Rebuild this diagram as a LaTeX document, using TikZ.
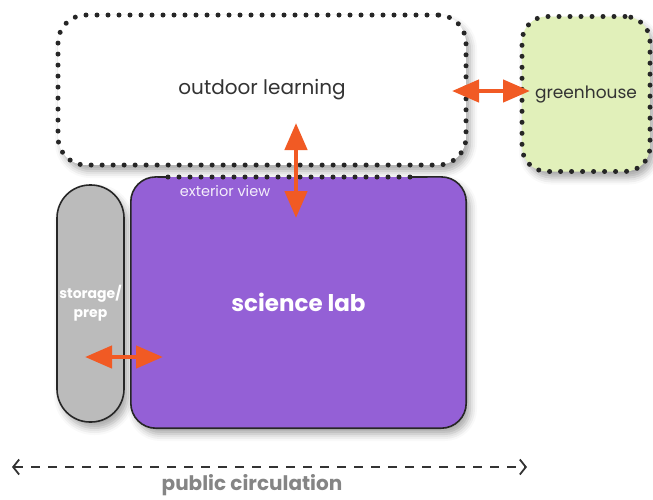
\documentclass[tikz,border=0pt]{standalone}
\usepackage{fontspec}
\setmainfont{Poppins}
\usetikzlibrary{arrows.meta,shadows.blur}
\definecolor{orng}{RGB}{241,90,36}
\definecolor{labpurple}{RGB}{148,96,214}
\definecolor{storegray}{RGB}{187,187,187}
\definecolor{greenfill}{RGB}{225,240,186}
\definecolor{circgray}{RGB}{133,133,133}
\begin{document}
\begin{tikzpicture}[x=1pt,y=-1pt,
  dotline/.style={line width=5pt, line cap=round, dash pattern=on 0pt off 11pt, draw=black!85},
  oarrow/.style={draw=orng, line width=4.5pt, {Triangle[length=27pt,width=22pt]}-{Triangle[length=27pt,width=22pt]}},
  softshadow/.style={blur shadow={shadow xshift=4pt, shadow yshift=-6pt, shadow blur radius=7pt, shadow opacity=35}},
  roomtext/.style={text=black!80, font=\fontsize{20}{24}\selectfont}
]
\useasboundingbox (0,0) rectangle (653,499);

% outdoor learning
\node[rectangle, rounded corners=28pt, minimum width=408pt, minimum height=150pt, inner sep=0pt,
  fill=white, softshadow, dotline, roomtext] (outdoor) at (262,90) {outdoor learning};

% greenhouse
\node[rectangle, rounded corners=25pt, minimum width=128pt, minimum height=155pt, inner sep=0pt,
  fill=greenfill, softshadow, dotline, text=black!80, font=\fontsize{17}{20}\selectfont] (green) at (586,94) {greenhouse};

% storage/prep
\node[rectangle, rounded corners=33pt, minimum width=67pt, minimum height=237pt, inner sep=0pt,
  fill=storegray, draw=black!85, line width=1.6pt, softshadow, text=white, align=center,
  font=\bfseries\fontsize{14}{19}\selectfont] (storage) at (90.5,303.5) {storage/\\prep};

% science lab
\node[rectangle, rounded corners=25pt, minimum width=335pt, minimum height=251pt, inner sep=0pt,
  fill=labpurple, softshadow, text=white, font=\bfseries\fontsize{23}{27}\selectfont] (lab) at (298.5,302.5) {science lab};
\draw[black!85, line width=1.6pt, rounded corners=25pt]
  (168,177) -- (lab.north west) -- (lab.south west) -- (lab.south east) -- (lab.north east) -- (412,177);
\draw[dotline] (168,177) -- (412,177);
\node[text=white!90!labpurple, font=\fontsize{14.5}{17}\selectfont] (ext) at (225,191) {exterior view};

% orange arrows
\coordinate (vtop) at (296,123);
\coordinate (vbot) at (296,218);
\draw[oarrow] (vtop) -- (vbot);
\coordinate (gl) at (452,91);
\coordinate (gr) at (530,91);
\draw[oarrow] (gl) -- (gr);
\coordinate (sl) at (85,357);
\coordinate (sr) at (163,357);
\draw[oarrow] (sl) -- (sr);

% public circulation
\coordinate (pcL) at (12,467);
\coordinate (pcR) at (527,467);
\draw[black!80, line width=1.8pt, dash pattern=on 9pt off 8pt,
  {Straight Barb[length=6pt,width=15pt]}-{Straight Barb[length=6pt,width=15pt]}] (pcL) -- (pcR);
\node[text=circgray, font=\bfseries\fontsize{20}{24}\selectfont] (pc) at (252,485.5) {public circulation};
\end{tikzpicture}
\end{document}
